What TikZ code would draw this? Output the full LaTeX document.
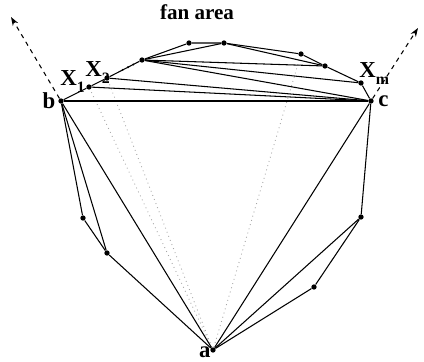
\documentclass[tikz,border=0pt]{standalone}
\usepackage{fontspec}
\setmainfont{Liberation Serif}
\usetikzlibrary{arrows.meta,calc}

\newcommand{\xsub}[1]{X\raisebox{-4pt}{\fontsize{9}{9}\selectfont #1}}

\begin{document}
\begin{tikzpicture}[x=0.02cm,y=-0.02cm,
    vtx/.style={circle,fill,inner sep=0pt,minimum size=3pt},
    edge/.style={line width=0.6pt},
    sight/.style={gray!70,line width=0.5pt,dash pattern=on 0.5pt off 2pt},
    ray/.style={line width=0.6pt,dash pattern=on 2.5pt off 2.5pt,-{Stealth[length=5pt,width=3.5pt]}},
    lbl/.style={font=\fontsize{13}{15}\selectfont\bfseries,inner sep=0pt}]
  \useasboundingbox (0,0) rectangle (424,362);
  % triangle a b c
  \node[vtx] (a) at (213,350) {};
  \node[vtx] (b) at (61,101) {};
  \node[vtx] (c) at (371,101) {};
  % chain over bc (fan area)
  \node[vtx] (x1) at (89,87) {};
  \node[vtx] (x2) at (107,78) {};
  \node[vtx] (p3) at (142,60) {};
  \node[vtx] (p4) at (189,43) {};
  \node[vtx] (p5) at (224,43) {};
  \node[vtx] (p6) at (301,54) {};
  \node[vtx] (p7) at (325,66) {};
  \node[vtx] (xm) at (361,83) {};
  % chains below
  \node[vtx] (l1) at (83,218) {};
  \node[vtx] (l2) at (107,253) {};
  \node[vtx] (r1) at (361,217) {};
  \node[vtx] (r2) at (314,287) {};
  \coordinate (tl) at (11,17);
  \coordinate (tr) at (418,28);

  \draw[sight] (a) -- (x1);
  \draw[sight] (a) -- (x2);
  \draw[sight] (a) -- (p6);

  \draw[edge] (b) -- (x1) -- (x2) -- (p3) -- (p4) -- (p5) -- (p6) -- (p7) -- (xm) -- (c);
  \draw[edge] (c) -- (x1);
  \draw[edge] (c) -- (x2);
  \draw[edge] (c) -- (p3);
  \draw[edge] (p3) -- (xm);
  \draw[edge] (p3) -- (p7);
  \draw[edge] (p3) -- (p5);
  \draw[edge] (p5) -- (p7);
  \draw[line width=0.9pt] (b) -- (c);
  \draw[edge] (b) -- (l1) -- (l2) -- (a);
  \draw[edge] (b) -- (l2);
  \draw[edge] (a) -- (r2) -- (r1) -- (c);
  \draw[edge] (a) -- (r1);
  \draw[edge] (b) -- (a);
  \draw[edge] (c) -- (a);
  \foreach \t in {0.45,0.6,0.75}
    \fill ($(x2)!\t!(p3)$) circle (0.6pt);

  \draw[ray] (b) -- (tl);
  \draw[ray] (c) -- (tr);

  \node[font=\fontsize{12}{14}\selectfont\bfseries] (fan) at (197,12) {fan area};
  \node[lbl,left=3pt] (lb) at (b) {b};
  \node[lbl,right=4pt] (lc) at (c) {c};
  \node[lbl,anchor=north east] (la) at ($(a)+(-2,-4)$) {a};
  \node[lbl,anchor=base west] (lx1) at (60,85) {\xsub{1}};
  \node[lbl,anchor=base west] (lx2) at (85,76) {\xsub{2}};
  \node[lbl,anchor=base west] (lxm) at (359,77) {\xsub{m}};
\end{tikzpicture}
\end{document}
